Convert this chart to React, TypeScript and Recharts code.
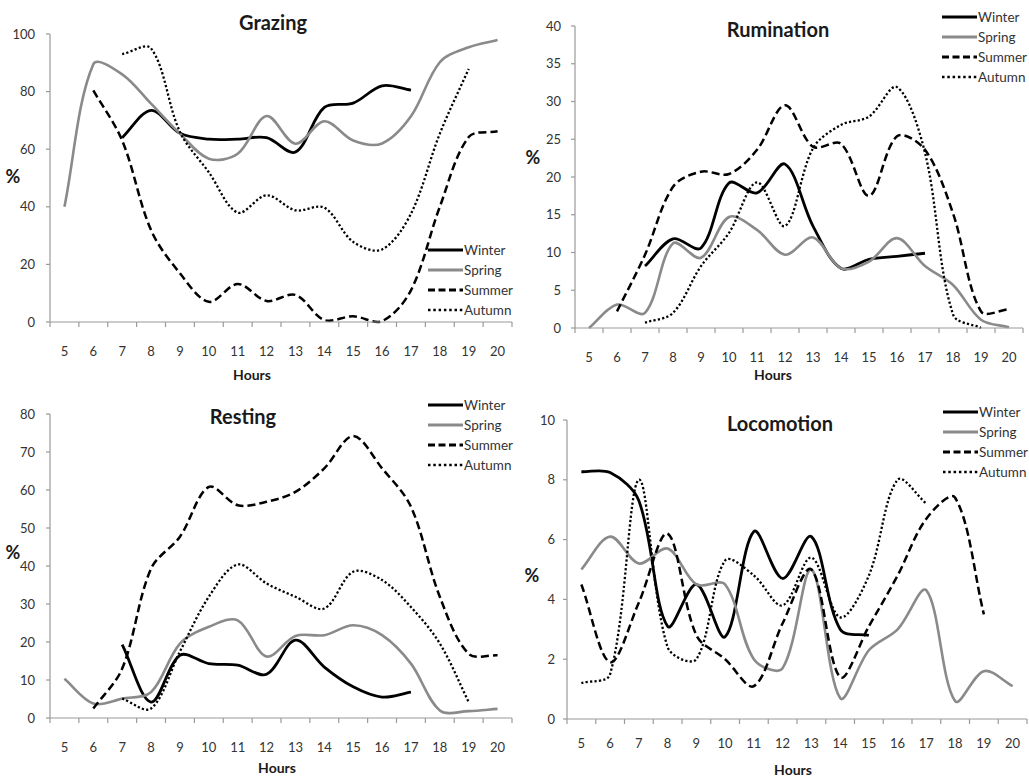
import React from 'react';
import { LineChart, Line, XAxis, YAxis, Legend } from 'recharts';

type V = number | null;

const HOURS = [5, 6, 7, 8, 9, 10, 11, 12, 13, 14, 15, 16, 17, 18, 19, 20];

// Grazing (%)
const grazingWinter: V[] = [null, null, 64, 73.5, 65.5, 63.5, 63.5, 64, 59, 74.5, 76, 82, 80.5, null, null, null];
const grazingSpring: V[] = [40, 89.5, 86, 75.8, 65.4, 56.7, 58.4, 71.5, 61.9, 69.7, 63, 62, 71.4, 90.2, 95.4, 97.9];
const grazingSummer: V[] = [null, 80.4, 63, 31.9, 16.9, 7, 13.2, 7.3, 9.4, 0.7, 2, 0.3, 11, 40, 64.2, 66.2];
const grazingAutumn: V[] = [null, null, 93, 95, 66, 52, 38, 44, 38.8, 39.7, 27.8, 25.2, 37.6, 65.4, 87.9, null];
const grazingTicks = [0, 20, 40, 60, 80, 100];

// Rumination (%)
const ruminationWinter: V[] = [null, null, 8.2, 11.8, 10.6, 19.2, 17.9, 21.7, 13.5, 7.9, 9.1, 9.5, 9.9, null, null, null];
const ruminationSpring: V[] = [0, 3.1, 2, 11.2, 9.3, 14.7, 13, 9.7, 12, 7.9, 8.8, 11.9, 8.2, 5.7, 1.1, 0.1];
const ruminationSummer: V[] = [null, 2.2, 9.7, 18.7, 20.7, 20.4, 23.6, 29.5, 24, 24.4, 17.5, 25.4, 23.6, 15.2, 2.2, 2.5];
const ruminationAutumn: V[] = [null, null, 0.7, 2, 8.2, 12.6, 19.3, 13.5, 23.8, 26.9, 28, 31.9, 23.2, 1.8, 0, null];
const ruminationTicks = [0, 5, 10, 15, 20, 25, 30, 35, 40];

// Resting (%)
const restingWinter: V[] = [null, null, 19.3, 4.2, 16.5, 14.3, 13.9, 11.5, 20.5, 13.4, 8.2, 5.5, 6.8, null, null, null];
const restingSpring: V[] = [10.3, 3.8, 5.1, 6.8, 19.6, 24, 25.7, 16.2, 21.6, 21.8, 24.4, 21.8, 14.3, 2, 1.8, 2.4];
const restingSummer: V[] = [null, 2.5, 13, 39.3, 47.7, 60.8, 56, 56.9, 59.5, 65.7, 74.2, 65.7, 55.6, 31.9, 16.9, 16.5];
const restingAutumn: V[] = [null, null, 5.1, 2.5, 17.5, 31.9, 40.4, 35.4, 31.9, 28.8, 38.5, 36.3, 29.2, 19.6, 4.2, null];
const restingTicks = [0, 10, 20, 30, 40, 50, 60, 70, 80];

// Locomotion (%)
const locomotionWinter: V[] = [8.27, 8.24, 7.3, 3.1, 4.5, 2.75, 6.27, 4.7, 6.1, 3, 2.8, null, null, null, null, null];
const locomotionSpring: V[] = [5, 6.1, 5.2, 5.7, 4.5, 4.5, 2, 1.7, 5, 0.7, 2.3, 3, 4.3, 0.6, 1.6, 1.1];
const locomotionSummer: V[] = [4.5, 1.9, 3.9, 6.2, 2.8, 2, 1.1, 3.2, 5, 1.4, 3.1, 4.8, 6.7, 7.4, 3.5, null];
const locomotionAutumn: V[] = [1.2, 1.5, 8, 2.4, 2, 5.3, 4.8, 3.8, 5.4, 3.4, 4.8, 8, 7.2, null, null, null];
const locomotionTicks = [0, 2, 4, 6, 8, 10];

const SEASONS = ['Winter', 'Spring', 'Summer', 'Autumn'];

const SERIES = [
  { key: 'winter', color: '#000000', width: 2.8, dash: undefined as string | undefined, legendDash: undefined as string | undefined },
  { key: 'spring', color: '#8a8a8a', width: 2.6, dash: undefined, legendDash: undefined },
  { key: 'summer', color: '#000000', width: 2.5, dash: '8 4', legendDash: '7 3.5' },
  { key: 'autumn', color: '#000000', width: 2.3, dash: '2.2 2.2', legendDash: '2.5 2.8' },
];

// Excel-like smoothing: Bezier through every point, control arms weighted by neighbouring segment lengths
function smoothCurve(context: any) {
  let pts: [number, number][] = [];
  const dist = (a: [number, number], b: [number, number]) => Math.hypot(b[0] - a[0], b[1] - a[1]);
  return {
    areaStart() {},
    areaEnd() {},
    lineStart() {
      pts = [];
    },
    lineEnd() {
      const n = pts.length;
      if (n > 0) {
        context.moveTo(pts[0][0], pts[0][1]);
        if (n === 2) {
          context.lineTo(pts[1][0], pts[1][1]);
        } else {
          for (let i = 0; i < n - 1; i++) {
            const p0 = pts[Math.max(0, i - 1)];
            const p1 = pts[i];
            const p2 = pts[i + 1];
            const p3 = pts[Math.min(n - 1, i + 2)];
            const l01 = dist(p0, p1);
            const l12 = dist(p1, p2);
            const l23 = dist(p2, p3);
            const a = l01 + l12 > 0 ? l12 / (l01 + l12) / 3 : 0;
            const b = l12 + l23 > 0 ? l12 / (l12 + l23) / 3 : 0;
            context.bezierCurveTo(
              p1[0] + (p2[0] - p0[0]) * a,
              p1[1] + (p2[1] - p0[1]) * a,
              p2[0] - (p3[0] - p1[0]) * b,
              p2[1] - (p3[1] - p1[1]) * b,
              p2[0],
              p2[1]
            );
          }
        }
      }
      pts = [];
    },
    point(x: number, y: number) {
      pts.push([+x, +y]);
    },
  };
}

const FONT = 'Lato, "Open Sans", sans-serif';
const AXIS = '#9a9a9a';
const TEXT = '#333333';

const PANELS = [
  {
    title: 'Grazing', winter: grazingWinter, spring: grazingSpring, summer: grazingSummer, autumn: grazingAutumn, ticks: grazingTicks,
    left: 0, top: 0, w: 515, h: 390, mt: 34, mr: 3, ml: 10, tm: 17, ah: 60, ytm: 11,
    titleX: 273, titleY: 22, pctX: 13, pctY: 176, hoursX: 252, hoursY: 375, legLeft: 428, legTop: 240,
  },
  {
    title: 'Rumination', winter: ruminationWinter, spring: ruminationSpring, summer: ruminationSummer, autumn: ruminationAutumn, ticks: ruminationTicks,
    left: 515, top: 0, w: 514, h: 390, mt: 26, mr: 6, ml: 20, tm: 16.5, ah: 54, ytm: 10,
    titleX: 263, titleY: 29, pctX: 18, pctY: 157, hoursX: 258, hoursY: 375, legLeft: 427, legTop: 7,
  },
  {
    title: 'Resting', winter: restingWinter, spring: restingSpring, summer: restingSummer, autumn: restingAutumn, ticks: restingTicks,
    left: 0, top: 390, w: 515, h: 388, mt: 24, mr: 3, ml: 10, tm: 16.5, ah: 52, ytm: 11,
    titleX: 243, titleY: 26, pctX: 13, pctY: 162, hoursX: 277, hoursY: 378, legLeft: 428, legTop: 5,
  },
  {
    title: 'Locomotion', winter: locomotionWinter, spring: locomotionSpring, summer: locomotionSummer, autumn: locomotionAutumn, ticks: locomotionTicks,
    left: 515, top: 390, w: 514, h: 388, mt: 30, mr: 2, ml: 12, tm: 11.5, ah: 51, ytm: 8,
    titleX: 265, titleY: 33, pctX: 17, pctY: 185, hoursX: 278, hoursY: 380, legLeft: 428, legTop: 12,
  },
];

function LegendBox() {
  return (
    <div style={{ fontFamily: FONT, fontSize: 13.5, color: TEXT }}>
      {SERIES.map((s, i) => (
        <div key={s.key} style={{ display: 'flex', alignItems: 'center', height: 20, whiteSpace: 'nowrap' }}>
          <svg width={35} height={8} style={{ display: 'block' }}>
            <line x1={0} y1={4} x2={35} y2={4} stroke={s.color} strokeWidth={s.width + 0.4} strokeDasharray={s.legendDash} />
          </svg>
          <span style={{ marginLeft: 1, lineHeight: '20px' }}>{SEASONS[i]}</span>
        </div>
      ))}
    </div>
  );
}

function centered(text: string, x: number, y: number, size: number, weight: number) {
  return (
    <div
      style={{
        position: 'absolute', left: x - 100, top: y - 15, width: 200, height: 30, lineHeight: '30px',
        textAlign: 'center', fontFamily: FONT, fontSize: size, fontWeight: weight, color: '#1a1a1a', pointerEvents: 'none',
      }}
    >
      {text}
    </div>
  );
}

function Panel({ p }: { p: (typeof PANELS)[number] }) {
  const data = HOURS.map((h, i) => ({
    hour: h,
    winter: p.winter[i],
    spring: p.spring[i],
    summer: p.summer[i],
    autumn: p.autumn[i],
  }));
  const bandTicks = [...HOURS.map((h) => h - 0.5), HOURS[HOURS.length - 1] + 0.5];
  const ymax = p.ticks[p.ticks.length - 1];
  return (
    <div style={{ position: 'absolute', left: p.left, top: p.top, width: p.w, height: p.h }}>
      <LineChart width={p.w} height={p.h} data={data} margin={{ top: p.mt, right: p.mr, bottom: 0, left: p.ml }}>
        <XAxis
          xAxisId="band" dataKey="hour" type="number" domain={[4.5, 20.5]} ticks={bandTicks} interval={0}
          tickFormatter={() => ''} height={8} tickSize={5} axisLine={{ stroke: AXIS, strokeWidth: 1.2 }} tickLine={{ stroke: AXIS, strokeWidth: 1.2 }}
        />
        <XAxis
          xAxisId="hours" dataKey="hour" type="number" domain={[4.5, 20.5]} ticks={HOURS} interval={0}
          axisLine={false} tickLine={false} tickSize={0} tickMargin={p.tm} height={p.ah}
          tick={{ fill: TEXT, fontSize: 13, fontFamily: FONT }}
        />
        <YAxis
          yAxisId="v" type="number" domain={[0, ymax]} ticks={p.ticks} interval={0} width={40}
          tickSize={4} tickMargin={p.ytm} axisLine={{ stroke: AXIS, strokeWidth: 1.2 }} tickLine={{ stroke: AXIS, strokeWidth: 1.2 }}
          tick={{ fill: TEXT, fontSize: 13, fontFamily: FONT }}
        />
        {SERIES.map((s, i) => (
          <Line
            key={s.key} xAxisId="hours" yAxisId="v" dataKey={s.key} name={SEASONS[i]}
            type={smoothCurve as any} stroke={s.color} strokeWidth={s.width} strokeDasharray={s.dash}
            dot={false} activeDot={false} connectNulls={false} isAnimationActive={false}
          />
        ))}
        <Legend
          layout="vertical" align="center" verticalAlign="middle"
          wrapperStyle={{ top: p.legTop, left: p.legLeft, width: 'auto', height: 'auto' }}
          content={() => <LegendBox />}
        />
      </LineChart>
      {centered(p.title, p.titleX, p.titleY, 20, 700)}
      {centered('%', p.pctX, p.pctY, 18, 700)}
      {centered('Hours', p.hoursX, p.hoursY, 14, 700)}
    </div>
  );
}

export default function App() {
  return (
    <div style={{ position: 'fixed', left: 0, top: 0, width: 1029, height: 778, background: '#ffffff', overflow: 'hidden' }}>
      {PANELS.map((p) => (
        <Panel key={p.title} p={p} />
      ))}
    </div>
  );
}
